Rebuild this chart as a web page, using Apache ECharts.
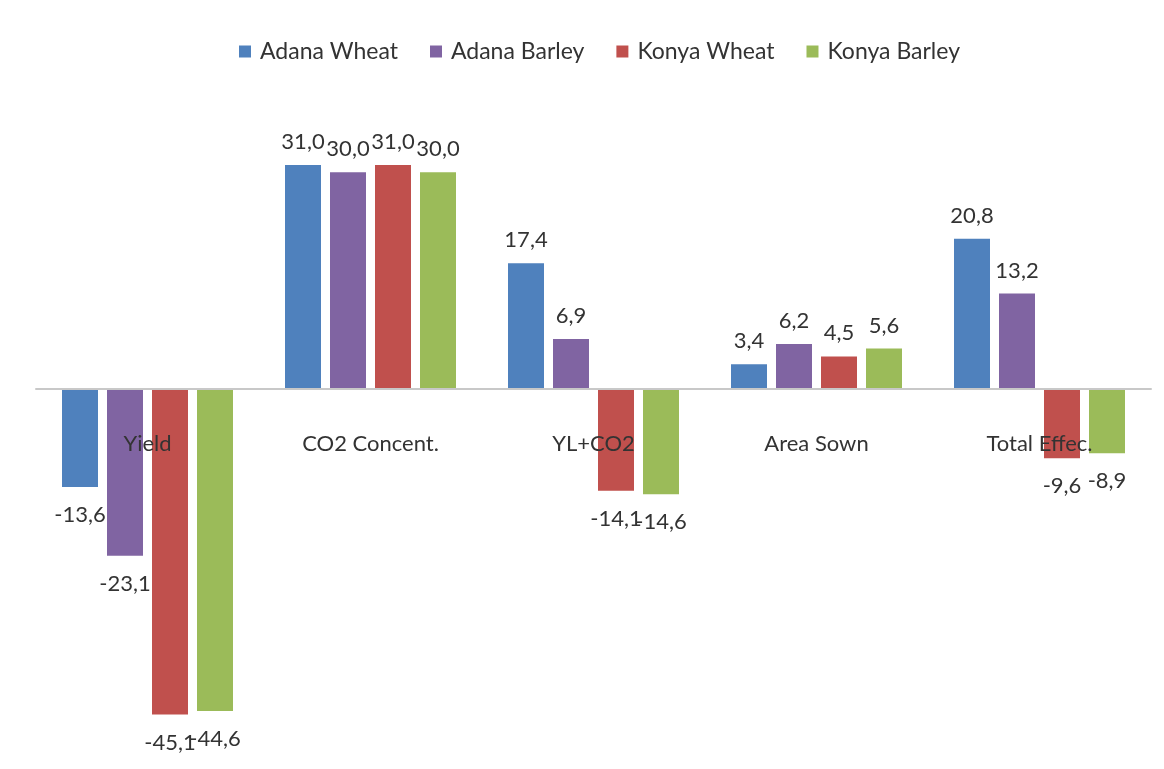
<!DOCTYPE html>
<html style="height: 100%">
<head>
    <meta charset="utf-8">
    <script src="https://cdn.jsdelivr.net/npm/echarts@6/dist/echarts.min.js"></script>
</head>
<body style="height:100%;margin:0;background:#fff">
    <div id="main" style="width:1164px;height:769px;"></div>
    <script type="text/javascript">
        // data
        var categories = ['Yield', 'CO2 Concent.', 'YL+CO2', 'Area Sown', 'Total Effec.'];
        var adanaWheat  = [-13.6, 31.0, 17.4, 3.4, 20.8];
        var adanaBarley = [-23.1, 30.0, 6.9, 6.2, 13.2];
        var konyaWheat  = [-45.1, 31.0, -14.1, 4.5, -9.6];
        var konyaBarley = [-44.6, 30.0, -14.6, 5.6, -8.9];

        var names = ['Adana Wheat', 'Adana Barley', 'Konya Wheat', 'Konya Barley'];
        var values = [adanaWheat, adanaBarley, konyaWheat, konyaBarley];
        var colors = ['#4F81BD', '#8064A2', '#C0504D', '#9BBB59'];
        var font = 'Lato, "Liberation Sans", sans-serif';

        function makeSeries(i) {
            return {
                name: names[i],
                type: 'bar',
                barWidth: 36,
                barGap: '25%',
                itemStyle: { color: colors[i] },
                data: values[i].map(function (v) {
                    // negatives get their label under the bar, a little further off
                    return {
                        value: v,
                        label: v < 0 ? { position: 'bottom', distance: 17 } : { position: 'top', distance: 12 }
                    };
                }),
                label: {
                    show: true,
                    color: '#333',
                    fontSize: 22,
                    fontFamily: font,
                    formatter: function (p) {
                        return p.value.toFixed(1).replace('.', ',');
                    }
                }
            };
        }

        var myChart = echarts.init(document.getElementById('main'));
        var option = {
            animation: false,
            legend: {
                top: 35,
                left: 234,
                itemWidth: 12,
                itemHeight: 12,
                itemGap: 32,
                icon: 'rect',
                textStyle: { fontSize: 23, color: '#333', fontFamily: font, padding: [0, 0, 0, 4] }
            },
            grid: {
                left: 36, right: 13, top: 100, bottom: 19,
                containLabel: false,
                outerBoundsMode: 'none'
            },
            xAxis: {
                type: 'category',
                data: categories,
                z: 10,
                axisLine: { onZero: true, lineStyle: { color: '#C8C8C8', width: 2 } },
                axisTick: { show: false },
                axisLabel: {
                    margin: -317,
                    fontSize: 22,
                    color: '#333',
                    fontFamily: font
                }
            },
            yAxis: {
                type: 'value',
                min: -50,
                max: 40,
                interval: 10,
                show: false,
                splitLine: { show: false }
            },
            series: [makeSeries(0), makeSeries(1), makeSeries(2), makeSeries(3)]
        };
        myChart.setOption(option);
    </script>
</body>
</html>
